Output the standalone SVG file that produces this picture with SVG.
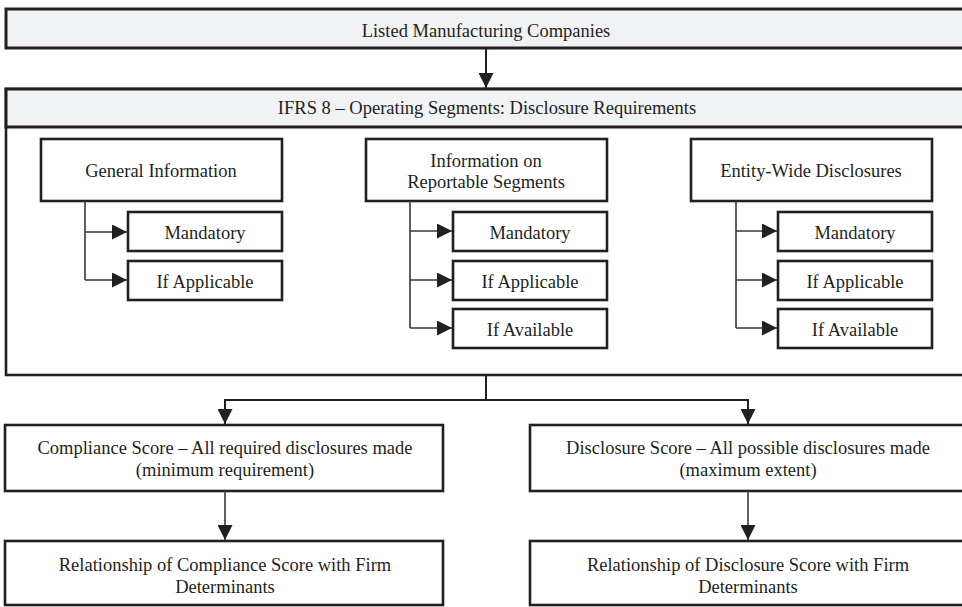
<svg xmlns="http://www.w3.org/2000/svg" width="962" height="607" viewBox="0 0 962 607">
<defs>
<style>
.bx{fill:#ffffff;stroke:#231f20;stroke-width:2.6}
.hd{fill:#f1f2f4;stroke:#231f20;stroke-width:3}
.t{font-family:'Liberation Serif','DejaVu Serif','Noto Serif',serif;font-size:18.5px;fill:#231f20;text-anchor:middle}
.c{fill:none;stroke:#231f20;stroke-width:2}
.cb{fill:none;stroke:#3a3637;stroke-width:1.6}
</style>
<marker id="ah" markerUnits="userSpaceOnUse" markerWidth="15" markerHeight="15" refX="15" refY="7.5" orient="auto" viewBox="0 0 15 15">
<path d="M0,0 L15,7.5 L0,15 z" fill="#231f20"/>
</marker>
</defs>
<rect width="962" height="607" fill="#ffffff"/>

<g id="listed">
<rect class="hd" x="6" y="9" width="1000" height="39"/>
<text class="t" x="486" y="37" font-family="Liberation Serif, serif">Listed Manufacturing Companies</text>
</g>

<g id="ifrs8">
<rect class="bx" x="6" y="89" width="1000" height="286" stroke-width="3"/>
<rect class="hd" x="6" y="89" width="1000" height="38"/>
<text class="t" x="487" y="114">IFRS 8 – Operating Segments: Disclosure Requirements</text>
</g>

<g id="general">
<rect class="bx" x="41" y="139" width="241" height="62"/>
<text class="t" x="161" y="177">General Information</text>
</g>
<g id="gen-mandatory">
<rect class="bx" x="128" y="212" width="154" height="39"/>
<text class="t" x="205" y="239">Mandatory</text>
</g>
<g id="gen-applicable">
<rect class="bx" x="128" y="261" width="154" height="39"/>
<text class="t" x="205" y="288">If Applicable</text>
</g>

<g id="reportable">
<rect class="bx" x="366" y="139" width="241" height="62"/>
<text class="t" x="486" y="167">Information on</text>
<text class="t" x="486" y="188">Reportable Segments</text>
</g>
<g id="rep-mandatory">
<rect class="bx" x="453" y="212" width="154" height="39"/>
<text class="t" x="530" y="239">Mandatory</text>
</g>
<g id="rep-applicable">
<rect class="bx" x="453" y="261" width="154" height="39"/>
<text class="t" x="530" y="288">If Applicable</text>
</g>
<g id="rep-available">
<rect class="bx" x="453" y="309" width="154" height="39"/>
<text class="t" x="530" y="336">If Available</text>
</g>

<g id="entity">
<rect class="bx" x="691" y="139" width="241" height="62"/>
<text class="t" x="811" y="177">Entity-Wide Disclosures</text>
</g>
<g id="ent-mandatory">
<rect class="bx" x="778" y="212" width="154" height="39"/>
<text class="t" x="855" y="239">Mandatory</text>
</g>
<g id="ent-applicable">
<rect class="bx" x="778" y="261" width="154" height="39"/>
<text class="t" x="855" y="288">If Applicable</text>
</g>
<g id="ent-available">
<rect class="bx" x="778" y="309" width="154" height="39"/>
<text class="t" x="855" y="336">If Available</text>
</g>

<g id="compliance">
<rect class="bx" x="5" y="425" width="438" height="66"/>
<text class="t" x="225" y="454">Compliance Score – All required disclosures made</text>
<text class="t" x="225" y="476">(minimum requirement)</text>
</g>
<g id="disclosure">
<rect class="bx" x="530" y="425" width="480" height="66"/>
<text class="t" x="748" y="454">Disclosure Score – All possible disclosures made</text>
<text class="t" x="748" y="476">(maximum extent)</text>
</g>
<g id="rel-compliance">
<rect class="bx" x="5" y="541" width="438" height="64"/>
<text class="t" x="225" y="571">Relationship of Compliance Score with Firm</text>
<text class="t" x="225" y="593">Determinants</text>
</g>
<g id="rel-disclosure">
<rect class="bx" x="530" y="541" width="480" height="64"/>
<text class="t" x="748" y="571">Relationship of Disclosure Score with Firm</text>
<text class="t" x="748" y="593">Determinants</text>
</g>

<g id="connectors">
<line class="c" x1="486" y1="48" x2="486" y2="88" marker-end="url(#ah)"/>
<polyline class="cb" points="85,201 85,280"/>
<line class="cb" x1="85" y1="232" x2="127" y2="232" marker-end="url(#ah)"/>
<line class="cb" x1="85" y1="280" x2="127" y2="280" marker-end="url(#ah)"/>
<polyline class="cb" points="410,201 410,328"/>
<line class="cb" x1="410" y1="231" x2="452" y2="231" marker-end="url(#ah)"/>
<line class="cb" x1="410" y1="280" x2="452" y2="280" marker-end="url(#ah)"/>
<line class="cb" x1="410" y1="328" x2="452" y2="328" marker-end="url(#ah)"/>
<polyline class="cb" points="736,201 736,328"/>
<line class="cb" x1="736" y1="231" x2="777" y2="231" marker-end="url(#ah)"/>
<line class="cb" x1="736" y1="280" x2="777" y2="280" marker-end="url(#ah)"/>
<line class="cb" x1="736" y1="328" x2="777" y2="328" marker-end="url(#ah)"/>
<polyline class="c" points="486,375 486,400"/>
<polyline class="c" points="486,400 225,400 225,424" marker-end="url(#ah)"/>
<polyline class="c" points="486,400 748,400 748,424" marker-end="url(#ah)"/>
<line class="cb" x1="225" y1="491" x2="225" y2="540" marker-end="url(#ah)"/>
<line class="cb" x1="748" y1="491" x2="748" y2="540" marker-end="url(#ah)"/>
</g>
</svg>
